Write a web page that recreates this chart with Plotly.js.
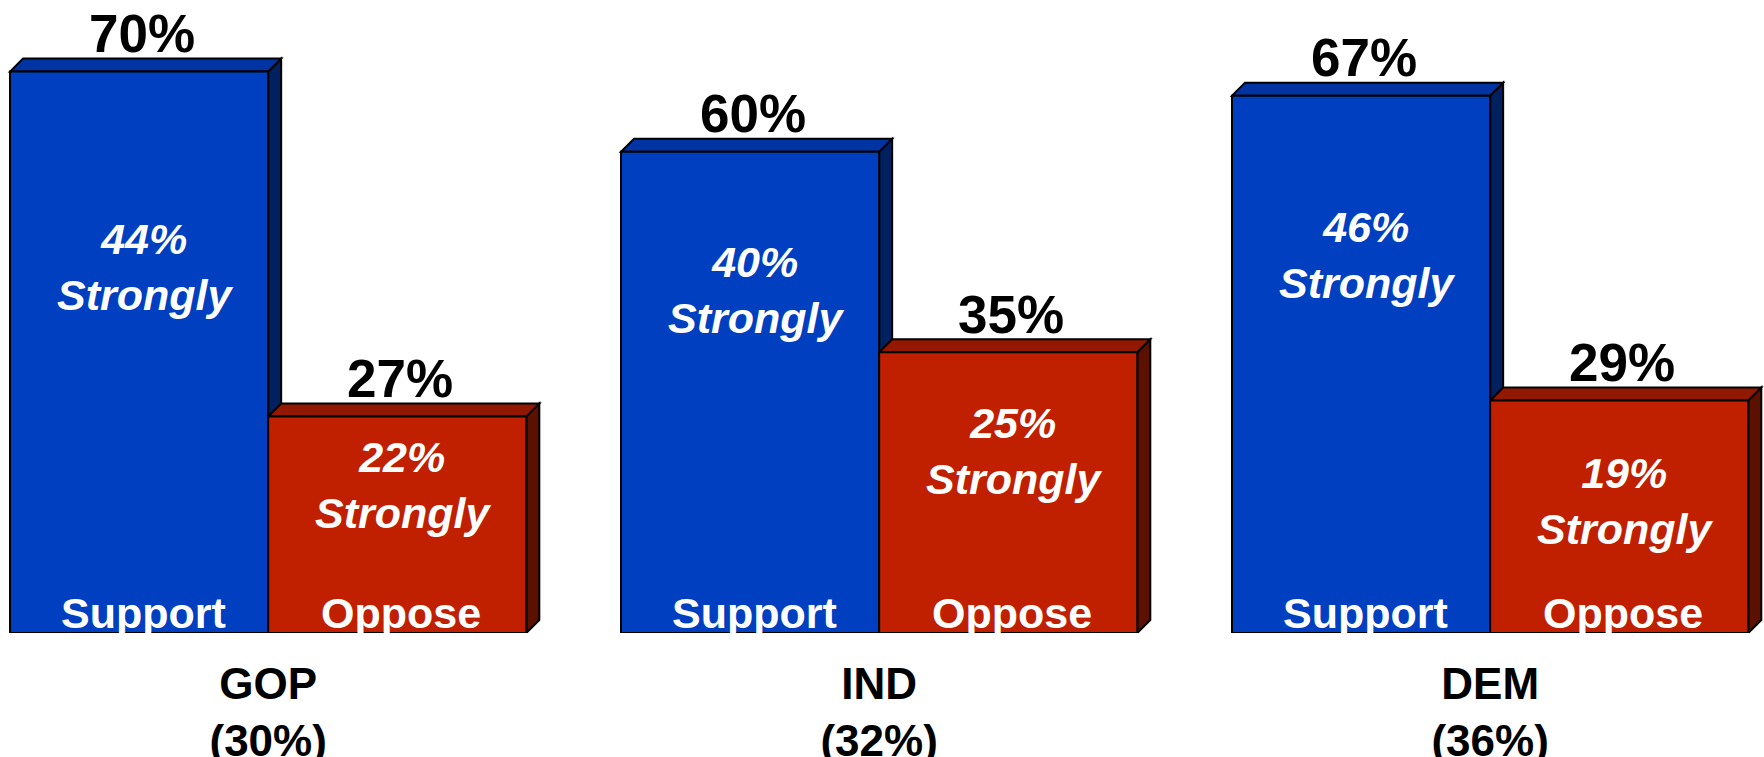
<!DOCTYPE html>
<html>
<head>
<meta charset="utf-8">
<script src="https://cdn.plot.ly/plotly-3.0.1.min.js"></script>
<style>html,body{margin:0;padding:0;background:#fff;}#chart{width:1764px;height:757px;}</style>
</head>
<body>
<div id="chart"></div>
<script>
// ---- data ----
const categories = ['GOP', 'IND', 'DEM'];
const groupShares = ['(30%)', '(32%)', '(36%)'];
const seriesNames = ['Support', 'Oppose'];
const supportTotal = [70, 60, 67];
const opposeTotal = [27, 35, 29];
const supportStrongly = [44, 40, 46];
const opposeStrongly = [22, 25, 19];

// ---- layout constants (not data) ----
const W = 1764, H = 757;
const marginB = 124;
const bargap = 0.155;
const yMax = (H - marginB) / 8.02;
const xRange = [-0.4389, 2.4482];
const depthPx = 13;
const pxPerX = W / (xRange[1] - xRange[0]);
const pxPerY = (H - marginB) / yMax;
const dx = depthPx / pxPerX, dy = depthPx / pxPerY;
const strongPosSupport = [45.6, 42.8, 47.1];
const strongPosOppose = [18.5, 22.7, 16.4];

const colors = {
  front: ['#0040C0', '#C02000'],
  top:   ['#0034A2', '#921800'],
  side:  ['#00205F', '#5C1000']
};
const FONT = "'Liberation Sans', Arial, sans-serif";

const xs = categories.map((c, i) => i);
const totals = [supportTotal, opposeTotal];
const strongs = [supportStrongly, opposeStrongly];
const strongPos = [strongPosSupport, strongPosOppose];

const traces = totals.map((vals, s) => ({
  type: 'bar',
  name: seriesNames[s],
  x: xs,
  y: vals,
  marker: {color: colors.front[s], line: {color: '#000', width: 2}},
  hoverinfo: 'skip',
  showlegend: false
}));

const w = (1 - bargap) / 2;
const shapes = [];
const annotations = [];
xs.forEach((xc, i) => {
  totals.forEach((vals, s) => {
    const v = vals[i];
    const x0 = xc - w + s * w, x1 = x0 + w;
    const line = {color: '#000', width: 2};
    // side face
    shapes.push({type: 'path', layer: 'below', xref: 'x', yref: 'y',
      path: `M${x1},0 L${x1 + dx},${dy} L${x1 + dx},${v + dy} L${x1},${v} Z`,
      fillcolor: colors.side[s], line});
    // top face
    shapes.push({type: 'path', layer: 'below', xref: 'x', yref: 'y',
      path: `M${x0},${v} L${x0 + dx},${v + dy} L${x1 + dx},${v + dy} L${x1},${v} Z`,
      fillcolor: colors.top[s], line});
    const xm = (x0 + x1) / 2;
    // total label
    annotations.push({x: xm, y: v, xref: 'x', yref: 'y', text: v + '%', showarrow: false,
      yanchor: 'middle', yshift: 38, xshift: 3,
      font: {family: FONT, size: 53, weight: 'bold', color: '#000'}});
    // strongly label
    annotations.push({x: xm, y: strongPos[s][i], xref: 'x', yref: 'y',
      text: strongs[s][i] + '%<br>Strongly', showarrow: false, yanchor: 'middle', xshift: 6,
      font: {family: FONT, size: 43, weight: 'bold', style: 'italic', color: '#fff'}});
    // series name at bottom
    annotations.push({x: xm, y: 0, xref: 'x', yref: 'y', text: seriesNames[s], showarrow: false,
      yanchor: 'middle', yshift: 20, xshift: 4,
      font: {family: FONT, size: 43, weight: 'bold', color: '#fff'}});
  });
});

const layout = {
  width: W, height: H,
  margin: {l: 0, r: 0, t: 0, b: marginB, pad: 0},
  paper_bgcolor: '#fff', plot_bgcolor: '#fff',
  barmode: 'group', bargap: bargap, bargroupgap: 0,
  showlegend: false,
  xaxis: {type: 'linear', range: xRange, tickvals: xs,
    ticktext: categories.map((c, i) => c + '<br>' + groupShares[i]),
    showgrid: false, zeroline: false, showline: false, ticks: '',
    ticklabelstandoff: 21,
    tickfont: {family: FONT, size: 44, weight: 'bold', color: '#000'}},
  yaxis: {range: [0, yMax], visible: false, showgrid: false, zeroline: false},
  shapes, annotations
};

Plotly.newPlot('chart', traces, layout, {displayModeBar: false, staticPlot: true});
</script>
</body>
</html>
